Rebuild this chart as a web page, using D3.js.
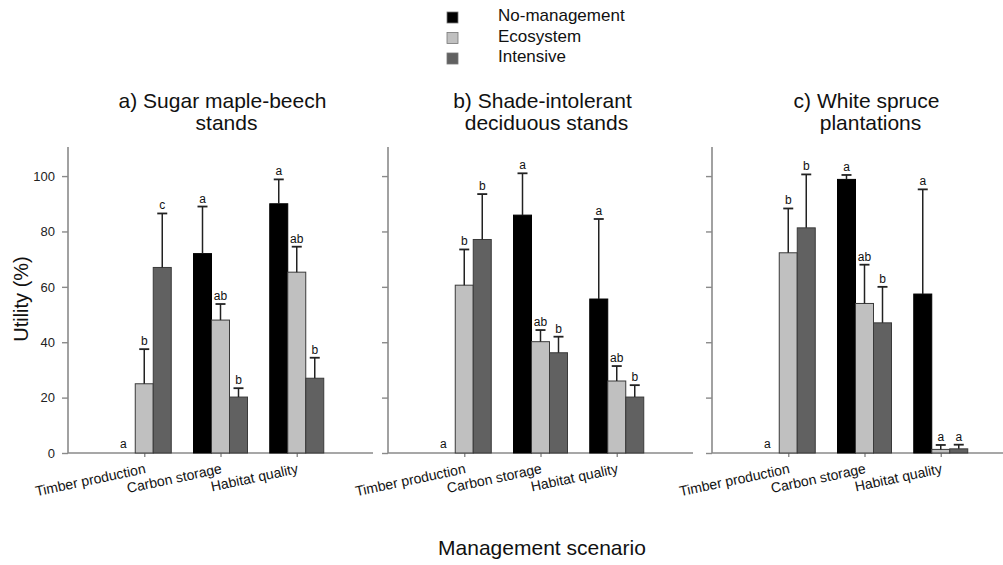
<!DOCTYPE html>
<html>
<head>
<meta charset="utf-8">
<script src="https://cdn.jsdelivr.net/npm/d3@7"></script>
<style>
  body { margin: 0; background: #fff; }
  svg { font-family: "Liberation Sans", Arial, sans-serif; }
</style>
</head>
<body>
<div id="chart"></div>
<script>
const categories = ["Timber production", "Carbon storage", "Habitat quality"];
const series = ["No-management", "Ecosystem", "Intensive"];
const seriesColors = ["#000000", "#c0c0c0", "#616161"];
const yTicks = [0, 20, 40, 60, 80, 100];

const panelTitles = [
  ["a) Sugar maple-beech", "stands"],
  ["b) Shade-intolerant", "deciduous stands"],
  ["c) White spruce", "plantations"]
];

// mean utility, [category][series]
const sugarMaple = [[0, 25, 67], [72, 48, 20.2], [90, 65.3, 27]];
const sugarMapleUpper = [[0, 37.5, 86.5], [89, 53.8, 23.4], [98.8, 74.5, 34.4]];
const sugarMapleLetters = [["a", "b", "c"], ["a", "ab", "b"], ["a", "ab", "b"]];

const shadeIntolerant = [[0, 60.6, 77.1], [85.9, 40.2, 36.2], [55.6, 26, 20.2]];
const shadeIntolerantUpper = [[0, 73.5, 93.5], [101, 44.4, 42], [84.5, 31.4, 24.5]];
const shadeIntolerantLetters = [["a", "b", "b"], ["a", "ab", "b"], ["a", "ab", "b"]];

const whiteSpruce = [[0, 72.3, 81.3], [98.8, 54, 47], [57.4, 1.3, 1.5]];
const whiteSpruceUpper = [[0, 88.3, 100.6], [100.4, 68, 60], [95.2, 2.9, 3]];
const whiteSpruceLetters = [["a", "b", "b"], ["a", "ab", "b"], ["a", "a", "a"]];

const panels = [
  { title: panelTitles[0], values: sugarMaple, upper: sugarMapleUpper, letters: sugarMapleLetters },
  { title: panelTitles[1], values: shadeIntolerant, upper: shadeIntolerantUpper, letters: shadeIntolerantLetters },
  { title: panelTitles[2], values: whiteSpruce, upper: whiteSpruceUpper, letters: whiteSpruceLetters }
];

const W = 1003, H = 565;
const panelLeft = [68, 388, 712];
const panelWidth = 305;
const plotTop = 147, plotBottom = 453;
const axisColor = "#8a8a8a";

const svg = d3.select("#chart").append("svg")
  .attr("width", W)
  .attr("height", H);

const y = d3.scaleLinear().domain([0, 110.5]).range([plotBottom, plotTop]);

// Legend
const legend = svg.append("g").attr("transform", "translate(447,12)");
series.forEach((s, i) => {
  legend.append("rect")
    .attr("x", 0).attr("y", i * 20.5)
    .attr("width", 11).attr("height", 11)
    .attr("fill", seriesColors[i])
    .attr("stroke", "#777").attr("stroke-width", 0.8);
  legend.append("text")
    .attr("x", 51).attr("y", i * 20.5 + 9)
    .attr("font-size", 17).attr("fill", "#111")
    .text(s);
});

panels.forEach((p, pi) => {
  const x0 = panelLeft[pi];
  const g = svg.append("g").attr("transform", `translate(${x0},0)`);

  const x = d3.scalePoint().domain(categories).range([0, panelWidth]).padding(1);
  const x1 = d3.scaleBand().domain(series).range([-27, 27]);

  // Title
  p.title.forEach((line, li) => {
    g.append("text")
      .attr("x", panelWidth / 2 + 2 + li * 4)
      .attr("y", 108 + li * 22)
      .attr("text-anchor", "middle")
      .attr("font-size", 21)
      .attr("fill", "#111")
      .text(line);
  });

  // Y axis
  const yAxis = g.append("g")
    .call(d3.axisLeft(y).tickValues(yTicks).tickSize(6).tickPadding(7)
      .tickFormat(pi === 0 ? d3.format("d") : ""));
  yAxis.select(".domain").attr("stroke", axisColor).attr("stroke-width", 1.6)
    .attr("d", `M0,${plotTop}V${plotBottom}`);
  yAxis.selectAll(".tick line").attr("stroke", axisColor).attr("stroke-width", 1.4);
  yAxis.selectAll(".tick text").attr("font-size", 13).attr("fill", "#222")
    .attr("font-family", "Liberation Sans, Arial, sans-serif");

  // X axis
  const xAxis = g.append("g")
    .attr("transform", `translate(0,${plotBottom})`)
    .call(d3.axisBottom(x).tickSize(4).tickFormat(""));
  xAxis.select(".domain").attr("stroke", axisColor).attr("stroke-width", 1.6)
    .attr("d", `M0,0H${panelWidth}`);
  xAxis.selectAll(".tick line").attr("stroke", axisColor).attr("stroke-width", 1.4);

  categories.forEach(c => {
    g.append("text")
      .attr("transform", `translate(${x(c) + 2},${plotBottom + 20}) rotate(-12)`)
      .attr("text-anchor", "end")
      .attr("font-size", 14)
      .attr("fill", "#111")
      .text(c);
  });

  // Bars, error bars, letters
  categories.forEach((c, ci) => {
    series.forEach((s, si) => {
      const v = p.values[ci][si];
      const up = p.upper[ci][si];
      const bx = x(c) + x1(s);
      const bw = x1.bandwidth();
      const cx = bx + bw / 2;
      if (v > 0) {
        g.append("rect")
          .attr("x", bx).attr("y", y(v))
          .attr("width", bw).attr("height", y(0) - y(v))
          .attr("fill", seriesColors[si])
          .attr("stroke", si === 0 ? "#000" : "#3a3a3a")
          .attr("stroke-width", 1);
        g.append("line")
          .attr("x1", cx).attr("x2", cx)
          .attr("y1", y(v)).attr("y2", y(up))
          .attr("stroke", "#222").attr("stroke-width", 1.5);
        g.append("line")
          .attr("x1", cx - 5).attr("x2", cx + 5)
          .attr("y1", y(up)).attr("y2", y(up))
          .attr("stroke", "#222").attr("stroke-width", 1.8);
      }
      g.append("text")
        .attr("x", v > 0 ? cx : cx - 3)
        .attr("y", v > 0 ? y(up) - 4 : plotBottom - 5)
        .attr("text-anchor", "middle")
        .attr("font-size", 12)
        .attr("fill", "#111")
        .text(p.letters[ci][si]);
    });
  });
});

// Axis titles
svg.append("text")
  .attr("transform", "translate(28,299) rotate(-90)")
  .attr("text-anchor", "middle")
  .attr("font-size", 20)
  .attr("fill", "#111")
  .text("Utility (%)");

svg.append("text")
  .attr("x", 542).attr("y", 555)
  .attr("text-anchor", "middle")
  .attr("font-size", 21)
  .attr("fill", "#111")
  .text("Management scenario");
</script>
</body>
</html>
